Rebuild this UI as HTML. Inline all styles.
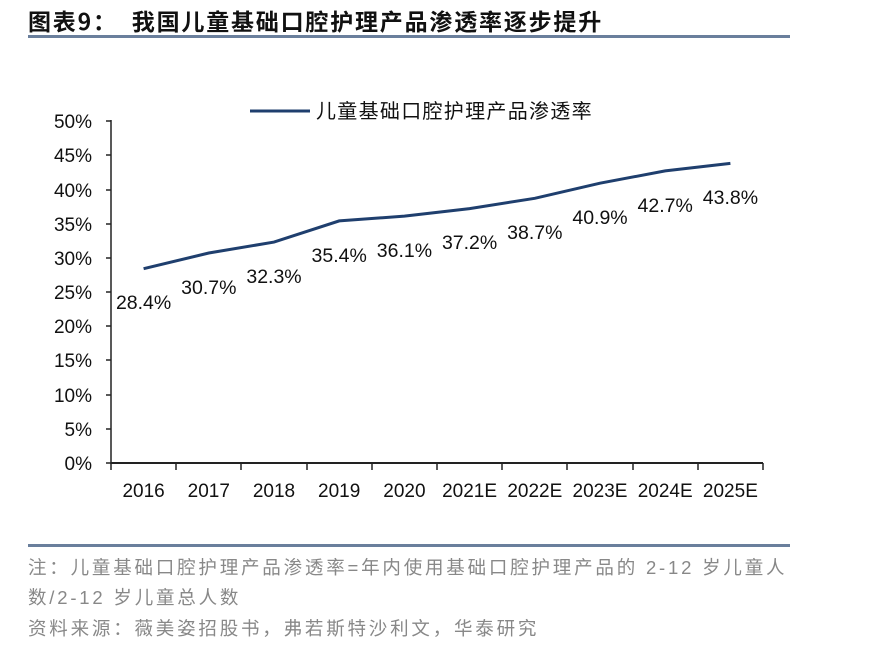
<!DOCTYPE html>
<html><head><meta charset="utf-8"><style>
body{margin:0;background:#fff;width:880px;height:666px;overflow:hidden;font-family:"Liberation Sans","Noto Sans CJK SC",sans-serif}
.t{position:absolute;left:28px;top:3px;font-size:23px;font-weight:bold;color:#111;font-family:"Noto Sans CJK SC","Liberation Sans",sans-serif;letter-spacing:1.8px}
.hr{position:absolute;left:28px;width:762px;height:3px;background:#6a7f9c}
.n{position:absolute;left:28px;font-size:18.5px;color:#888;letter-spacing:2.8px;font-family:"Liberation Sans","Noto Sans CJK SC",sans-serif;white-space:nowrap}
</style></head><body>
<div class="t">图表9：&nbsp;&nbsp;我国儿童基础口腔护理产品渗透率逐步提升</div>
<div class="hr" style="top:35px"></div>
<svg width="880" height="666" style="position:absolute;left:0;top:0" font-family="Liberation Sans, sans-serif">
<line x1="250" y1="111" x2="310" y2="111" stroke="#1f3f6e" stroke-width="3"/>
<text x="316" y="118" font-size="20" letter-spacing="1.3" font-family="Noto Sans CJK SC, sans-serif" fill="#111">儿童基础口腔护理产品渗透率</text>
<g font-size="19" fill="#111" text-anchor="end">
<text x="92" y="128">50%</text><text x="92" y="162">45%</text><text x="92" y="197">40%</text><text x="92" y="231">35%</text><text x="92" y="265">30%</text><text x="92" y="299">25%</text><text x="92" y="333">20%</text><text x="92" y="367">15%</text><text x="92" y="402">10%</text><text x="92" y="436">5%</text><text x="92" y="470">0%</text>
</g>
<g stroke="#222" stroke-width="1.5">
<line x1="111" y1="120" x2="111" y2="464"/>
<line x1="111" y1="463" x2="763" y2="463" stroke-width="2"/>
<line x1="106" y1="121" x2="111" y2="121"/><line x1="106" y1="155" x2="111" y2="155"/><line x1="106" y1="190" x2="111" y2="190"/><line x1="106" y1="224" x2="111" y2="224"/><line x1="106" y1="258" x2="111" y2="258"/><line x1="106" y1="292" x2="111" y2="292"/><line x1="106" y1="326" x2="111" y2="326"/><line x1="106" y1="360" x2="111" y2="360"/><line x1="106" y1="395" x2="111" y2="395"/><line x1="106" y1="429" x2="111" y2="429"/><line x1="106" y1="463" x2="111" y2="463"/>
<line x1="111" y1="463" x2="111" y2="470"/><line x1="176" y1="463" x2="176" y2="470"/><line x1="241" y1="463" x2="241" y2="470"/><line x1="307" y1="463" x2="307" y2="470"/><line x1="372" y1="463" x2="372" y2="470"/><line x1="437" y1="463" x2="437" y2="470"/><line x1="502" y1="463" x2="502" y2="470"/><line x1="567" y1="463" x2="567" y2="470"/><line x1="633" y1="463" x2="633" y2="470"/><line x1="698" y1="463" x2="698" y2="470"/><line x1="763" y1="463" x2="763" y2="470"/>
</g>
<g font-size="19" fill="#111" text-anchor="middle">
<text x="143.6" y="497">2016</text><text x="208.8" y="497">2017</text><text x="274" y="497">2018</text><text x="339.2" y="497">2019</text><text x="404.4" y="497">2020</text><text x="469.6" y="497">2021E</text><text x="534.8" y="497">2022E</text><text x="600" y="497">2023E</text><text x="665.2" y="497">2024E</text><text x="730.4" y="497">2025E</text>
</g>
<polyline fill="none" stroke="#1f3f6e" stroke-width="3" points="143.6,268.7 208.8,253 274,242.1 339.2,220.9 404.4,216.1 469.6,208.6 534.8,198.3 600,183.2 665.2,170.9 730.4,163.4"/>
<g font-size="19.5" fill="#111" text-anchor="middle">
<text x="143.6" y="309">28.4%</text><text x="208.8" y="294">30.7%</text><text x="274" y="283">32.3%</text><text x="339.2" y="262">35.4%</text><text x="404.4" y="257">36.1%</text><text x="469.6" y="249">37.2%</text><text x="534.8" y="239">38.7%</text><text x="600" y="224">40.9%</text><text x="665.2" y="212">42.7%</text><text x="730.4" y="204">43.8%</text>
</g>
</svg>
<div class="hr" style="top:544px"></div>
<div class="n" style="top:554px">注：儿童基础口腔护理产品渗透率=年内使用基础口腔护理产品的 2-12 岁儿童人</div>
<div class="n" style="top:584px">数/2-12 岁儿童总人数</div>
<div class="n" style="top:615px">资料来源：薇美姿招股书，弗若斯特沙利文，华泰研究</div>
</body></html>
